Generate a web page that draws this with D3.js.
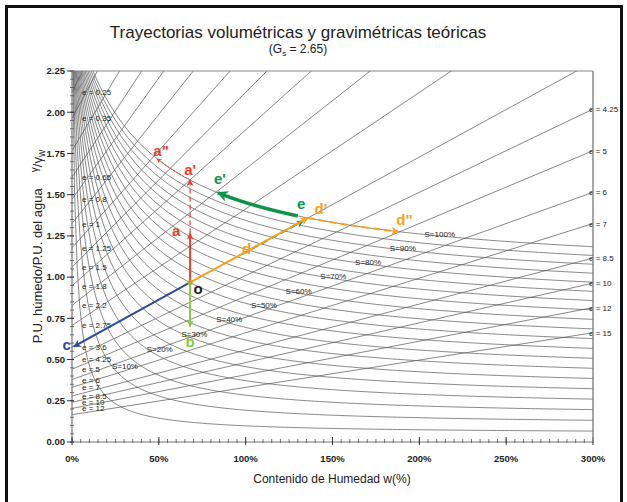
<!DOCTYPE html>
<html>
<head>
<meta charset="utf-8">
<script src="https://cdn.jsdelivr.net/npm/d3@7"></script>
<style>
body { margin: 0; background: #fff; }
text { font-family: Arial, "Liberation Sans", sans-serif; }
</style>
</head>
<body>
<div id="chart"></div>
<script>
// densidad relativa de sólidos
var Gs = 2.65;

// relaciones de vacíos (rectas) y grados de saturación (curvas)
var voidRatios = [0.25, 0.35, 0.5, 0.65, 0.8, 1, 1.25, 1.5, 1.8, 2.2, 2.75, 3.6, 4.25, 5, 6, 7, 8.5, 10, 12, 15];
var leftVoidLabels = [0.25, 0.35, 0.65, 0.8, 1, 1.25, 1.5, 1.8, 2.2, 2.75, 3.6, 4.25, 5, 6, 7, 8.5, 10, 12];
var rightVoidLabels = [4.25, 5, 6, 7, 8.5, 10, 12, 15];
var saturations = [5, 10, 15, 20, 25, 30, 35, 40, 45, 50, 55, 60, 65, 70, 75, 80, 85, 90, 95, 100];
var saturationLabels = [10, 20, 30, 40, 50, 60, 70, 80, 90, 100];

// ejes
var xTicks = [0, 0.5, 1, 1.5, 2, 2.5, 3];
var yTicks = [0, 0.25, 0.5, 0.75, 1, 1.25, 1.5, 1.75, 2, 2.25];

// trayectorias [w, γ/γw]
var pointO = [0.68, 0.968];
var pathA = [[0.68, 0.968], [0.68, 1.265]];
var pathA1 = [[0.68, 1.265], [0.68, 1.59]];
var pathA2 = [0.68, 0.49];          // w inicial / final sobre S = 100%
var pathB = [[0.68, 0.968], [0.68, 0.70]];
var pathC = [[0.68, 0.968], [0.01, 0.578]];
var pathD = [[0.68, 0.968], [1.358, 1.359]];
var pathD2 = [1.358, 1.88];         // sobre S = 100%
var pathE = [[0.98, 1.14], [1.33, 1.34]];
var pathE1 = [1.30, 0.84];          // sobre S = 100%

var margin = { top: 71, right: 34, bottom: 60, left: 72 };
var width = 627 - margin.left - margin.right;
var height = 502 - margin.top - margin.bottom;

var svgRoot = d3.select('#chart').append('svg')
    .attr('width', 627)
    .attr('height', 502);

// marco exterior
svgRoot.append('rect')
    .attr('x', 6.5).attr('y', 6.5)
    .attr('width', 615).attr('height', 520)
    .attr('fill', 'none')
    .attr('stroke', '#111')
    .attr('stroke-width', 3);

var svg = svgRoot.append('g')
    .attr('transform', 'translate(' + margin.left + ',' + margin.top + ')');

var x = d3.scaleLinear().domain([0, 3]).range([0, width]);
var y = d3.scaleLinear().domain([0, 2.25]).range([height, 0]);

function gammaE(e, w) { return Gs * (1 + w) / (1 + e); }
function gammaS(s, w) { return Gs * (1 + w) / (1 + w * Gs / s); }
function satPoints(s, w0, w1) {
    var n = 200, pts = [];
    for (var i = 0; i <= n; i++) {
        var w = w0 + (w1 - w0) * i / n;
        pts.push([w, gammaS(s, w)]);
    }
    return pts;
}

var line = d3.line().x(function(d) { return x(d[0]); }).y(function(d) { return y(d[1]); });

var defs = svgRoot.append('defs');
defs.append('clipPath').attr('id', 'plotClip')
    .append('rect').attr('width', width).attr('height', height);

function addMarker(id, color, len, wid) {
    defs.append('marker')
        .attr('id', id)
        .attr('markerUnits', 'userSpaceOnUse')
        .attr('viewBox', '0 0 10 10')
        .attr('refX', 9).attr('refY', 5)
        .attr('markerWidth', len).attr('markerHeight', wid)
        .attr('orient', 'auto')
        .append('path')
        .attr('d', 'M0,0 L10,5 L0,10 L3,5 Z')
        .attr('fill', color);
}

var cRed = '#ee3b2b', cGreenL = '#8dc63f', cBlue = '#2a4da1', cOrange = '#f7a21b', cGreen = '#0d9447';
addMarker('arRed', cRed, 9, 7);
addMarker('arRedS', cRed, 6, 5);
addMarker('arGreenL', cGreenL, 9, 7);
addMarker('arBlue', cBlue, 10, 8);
addMarker('arOrange', cOrange, 10, 8);
addMarker('arGreen', cGreen, 9, 7);
addMarker('arGreenB', cGreen, 14, 11);

var plot = svg.append('g').attr('clip-path', 'url(#plotClip)');

// curvas de saturación
saturations.forEach(function(s) {
    plot.append('path')
        .attr('d', line(satPoints(s / 100, 0, 3)))
        .attr('fill', 'none')
        .attr('stroke', '#555')
        .attr('stroke-width', 0.7);
});

// rectas de relación de vacíos
voidRatios.forEach(function(e) {
    plot.append('path')
        .attr('d', line([[0, gammaE(e, 0)], [3, gammaE(e, 3)]]))
        .attr('fill', 'none')
        .attr('stroke', '#555')
        .attr('stroke-width', 0.7);
});

// etiquetas e (izquierda y derecha)
leftVoidLabels.forEach(function(e) {
    svg.append('text')
        .attr('x', x(0) + 10)
        .attr('y', y(gammaE(e, 0)) + 3)
        .attr('font-size', 8)
        .attr('fill', '#222')
        .text('e = ' + e);
});
rightVoidLabels.forEach(function(e) {
    svg.append('text')
        .attr('x', x(3) - 4)
        .attr('y', y(gammaE(e, 3)) + 3)
        .attr('font-size', 8)
        .attr('fill', '#222')
        .text('e = ' + e);
});

// etiquetas S
saturationLabels.forEach(function(s) {
    var w = 0.03 + 2 * s / 100;
    svg.append('text')
        .attr('x', x(w))
        .attr('y', y(gammaS(s / 100, w)) + 3)
        .attr('font-size', 8)
        .attr('fill', '#222')
        .text('S=' + s + '%');
});

// ejes
var yAxis = svg.append('g');
yAxis.append('line').attr('x1', 0).attr('x2', 0).attr('y1', 0).attr('y2', height)
    .attr('stroke', '#777').attr('stroke-width', 1.2);
d3.range(0, 2.2501, 0.05).forEach(function(v) {
    yAxis.append('line').attr('x1', -2).attr('x2', 2).attr('y1', y(v)).attr('y2', y(v))
        .attr('stroke', '#555').attr('stroke-width', 0.8);
});
yTicks.forEach(function(v) {
    yAxis.append('line').attr('x1', -5).attr('x2', 2).attr('y1', y(v)).attr('y2', y(v))
        .attr('stroke', '#333').attr('stroke-width', 1);
    yAxis.append('text')
        .attr('x', -7).attr('y', y(v) + 3.3)
        .attr('text-anchor', 'end')
        .attr('font-size', 9.5).attr('font-weight', 'bold').attr('fill', '#222')
        .text(d3.format('.2f')(v));
});

var xAxis = svg.append('g').attr('transform', 'translate(0,' + height + ')');
xAxis.append('line').attr('x1', 0).attr('x2', width).attr('stroke', '#777').attr('stroke-width', 1.2);
d3.range(0, 3.0001, 0.05).forEach(function(v) {
    xAxis.append('line').attr('x1', x(v)).attr('x2', x(v)).attr('y1', -3).attr('y2', 1)
        .attr('stroke', '#555').attr('stroke-width', 0.8);
});
xTicks.forEach(function(v) {
    xAxis.append('line').attr('x1', x(v)).attr('x2', x(v)).attr('y1', -5).attr('y2', 3)
        .attr('stroke', '#333').attr('stroke-width', 1);
    xAxis.append('text')
        .attr('x', x(v)).attr('y', 20)
        .attr('text-anchor', 'middle')
        .attr('font-size', 9.5).attr('font-weight', 'bold').attr('fill', '#222')
        .text(d3.format('.0%')(v));
});

// borde superior y derecho
svg.append('line').attr('x1', 0).attr('x2', width).attr('y1', 0).attr('y2', 0)
    .attr('stroke', '#888').attr('stroke-width', 1.2);
svg.append('line').attr('x1', width).attr('x2', width).attr('y1', 0).attr('y2', height)
    .attr('stroke', '#888').attr('stroke-width', 1.5);

// trayectorias
function arrow(pts, color, sw, marker, dash) {
    var p = svg.append('path')
        .attr('d', line(pts))
        .attr('fill', 'none')
        .attr('stroke', color)
        .attr('stroke-width', sw);
    if (marker) p.attr('marker-end', 'url(#' + marker + ')');
    if (dash) p.attr('stroke-dasharray', dash);
    return p;
}

arrow(pathE, cGreen, 2, 'arGreen', '7,4');
arrow(pathD, cOrange, 2, 'arOrange');
arrow(satPoints(1, pathD2[0], pathD2[1]), cOrange, 2, 'arOrange', '7,4');
arrow(satPoints(1, pathE1[0], pathE1[1]), cGreen, 3.5, 'arGreenB');
arrow(pathA, cRed, 2, 'arRed');
arrow(pathA1, cRed, 1.2, 'arRed', '5,3');
arrow(satPoints(1, pathA2[0], pathA2[1]), cRed, 1, 'arRedS', '2,1.5');
arrow(pathB, cGreenL, 2, 'arGreenL');
arrow(pathC, cBlue, 2, 'arBlue');

svg.append('circle')
    .attr('cx', x(pointO[0])).attr('cy', y(pointO[1])).attr('r', 2.5)
    .attr('fill', '#b5a830');

function letter(txt, px, py, color) {
    svg.append('text')
        .attr('x', px).attr('y', py)
        .attr('text-anchor', 'middle')
        .attr('font-size', 15).attr('font-weight', 'bold')
        .attr('fill', color)
        .text(txt);
}
letter('o', x(pointO[0]) + 8, y(pointO[1]) + 12, '#222');
letter('a', x(pathA[1][0]) - 14, y(pathA[1][1]) + 3, cRed);
letter("a'", x(pathA1[1][0]), y(pathA1[1][1]) - 5, cRed);
letter('a"', x(pathA2[1]) + 4, y(gammaS(1, pathA2[1])) - 3, cRed);
letter('b', x(pathB[1][0]), y(pathB[1][1]) + 20, cGreenL);
letter('c', x(pathC[1][0]) - 7, y(pathC[1][1]) + 3, cBlue);
letter('d', x(1.0) + 1, y(1.17) + 5, cOrange);
letter("d'", x(pathD[1][0]) + 13, y(pathD[1][1]) - 4, cOrange);
letter('d"', x(pathD2[1]) + 6, y(gammaS(1, pathD2[1])) - 7, cOrange);
letter('e', x(1.32), y(1.40) - 2, cGreen);
letter("e'", x(pathE1[1]) + 2, y(gammaS(1, pathE1[1])) - 9, cGreen);

// títulos
svgRoot.append('text')
    .attr('x', 298).attr('y', 38)
    .attr('text-anchor', 'middle')
    .attr('font-size', 17).attr('fill', '#222')
    .text('Trayectorias volumétricas y gravimétricas teóricas');
var sub = svgRoot.append('text')
    .attr('x', 298).attr('y', 53)
    .attr('text-anchor', 'middle')
    .attr('font-size', 12).attr('fill', '#222');
sub.append('tspan').text('(G');
sub.append('tspan').attr('font-size', 8).attr('dy', 3).text('s');
sub.append('tspan').attr('dy', -3).text(' = 2.65)');

svgRoot.append('text')
    .attr('x', 332).attr('y', 483)
    .attr('text-anchor', 'middle')
    .attr('font-size', 12).attr('fill', '#222')
    .text('Contenido de Humedad w(%)');

var yl = svgRoot.append('text')
    .attr('transform', 'translate(42,' + (margin.top + height / 2 - 10) + ') rotate(-90)')
    .attr('text-anchor', 'middle')
    .attr('font-size', 13).attr('fill', '#222');
yl.append('tspan').text('P.U. húmedo/P.U. del agua');
yl.append('tspan').attr('font-size', 10).attr('dx', 16).attr('dy', -4).text('γ');
yl.append('tspan').attr('dy', 4).text('/γ');
yl.append('tspan').attr('font-size', 10).attr('dy', 3).text('w');
</script>
</body>
</html>
